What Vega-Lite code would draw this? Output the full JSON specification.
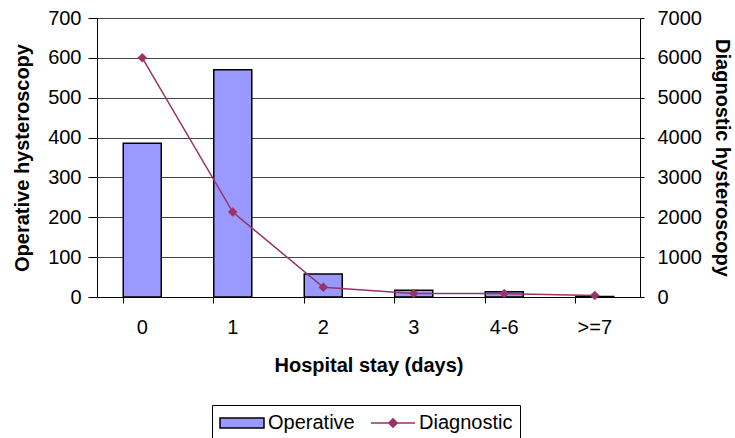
{
  "$schema": "https://vega.github.io/schema/vega-lite/v6.json",
  "width": 543,
  "height": 279,
  "autosize": "none",
  "padding": {"left": 97, "top": 18, "right": 95, "bottom": 141},
  "background": "white",
  "config": {
    "font": "Liberation Sans",
    "view": {"stroke": null},
    "axis": {"labelFont": "Liberation Sans", "titleFont": "Liberation Sans", "labelFontSize": 20, "titleFontSize": 20, "titleFontWeight": "bold", "labelColor": "black", "titleColor": "black", "domainColor": "black", "tickColor": "black", "gridColor": "#444444", "labelOverlap": false},
    "legend": {
      "title": null, "orient": "none", "legendX": 115, "legendY": 387, "direction": "horizontal",
      "strokeColor": "black", "padding": 7, "columnPadding": 13, "labelOffset": 15, "symbolOffset": 12, "labelFontSize": 20, "labelFont": "Liberation Sans", "labelColor": "black",
      "symbolSize": 400, "symbolStrokeWidth": 1.5
    }
  },
  "data": {
    "values": [
      {"stay": "0", "op": 386, "diag": 6000},
      {"stay": "1", "op": 570, "diag": 2130},
      {"stay": "2", "op": 58, "diag": 245},
      {"stay": "3", "op": 17, "diag": 85},
      {"stay": "4-6", "op": 13, "diag": 85},
      {"stay": ">=7", "op": 1, "diag": 40}
    ]
  },
  "encoding": {
    "x": {
      "field": "stay", "type": "ordinal", "sort": null,
      "scale": {"paddingInner": 0.58, "paddingOuter": 0.29},
      "axis": {"title": "Hospital stay (days)", "labelAngle": 0, "labelPadding": 14, "titlePadding": 18, "tickSize": 6, "bandPosition": 0, "grid": false}
    }
  },
  "layer": [
    {
      "mark": {"type": "bar", "strokeWidth": 1.5},
      "encoding": {
        "y": {"field": "op", "type": "quantitative", "scale": {"domain": [0, 700], "nice": false},
          "axis": {"title": "Operative hysteroscopy", "values": [0,100,200,300,400,500,600,700], "grid": true, "gridWidth": 1, "tickSize": 9, "labelPadding": 7, "titlePadding": 15}},
        "fill": {"datum": "Operative", "type": "nominal",
          "scale": {"domain": ["Operative", "Diagnostic"], "range": ["#9999ff", "#993366"]},
          "legend": {
            "title": null,
            "encoding": {"symbols": {
              "shape": {"value": {"expr": "datum.value === 'Operative' ? 'M-2.2,-0.5H2.2V0.5H-2.2Z' : 'M-2.2,0H2.2M0,-0.42L0.42,0L0,0.42L-0.42,0Z'"}}
            }}
          }},
        "stroke": {"datum": "Operative", "type": "nominal",
          "scale": {"domain": ["Operative", "Diagnostic"], "range": ["black", "#993366"]},
          "legend": {
            "title": null,
            "encoding": {"symbols": {
              "shape": {"value": {"expr": "datum.value === 'Operative' ? 'M-2.2,-0.5H2.2V0.5H-2.2Z' : 'M-2.2,0H2.2M0,-0.42L0.42,0L0,0.42L-0.42,0Z'"}}
            }}
          }}
      }
    },
    {
      "encoding": {
        "y": {"field": "diag", "type": "quantitative", "scale": {"domain": [0, 7000], "nice": false},
          "axis": {"title": "Diagnostic hysteroscopy", "orient": "right", "format": "d", "values": [0,1000,2000,3000,4000,5000,6000,7000], "grid": false, "tickSize": 4, "labelPadding": 13, "titlePadding": 10}}
      },
      "layer": [
        {
          "mark": {"type": "line", "strokeWidth": 1.5},
          "encoding": {"stroke": {"datum": "Diagnostic", "type": "nominal"}}
        },
        {
          "mark": {"type": "point", "shape": "diamond", "size": 81, "filled": true, "opacity": 1, "strokeWidth": 0.5},
          "encoding": {"fill": {"datum": "Diagnostic", "type": "nominal"}, "stroke": {"datum": "Diagnostic", "type": "nominal"}}
        }
      ]
    }
  ],
  "resolve": {"scale": {"y": "independent"}}
}
